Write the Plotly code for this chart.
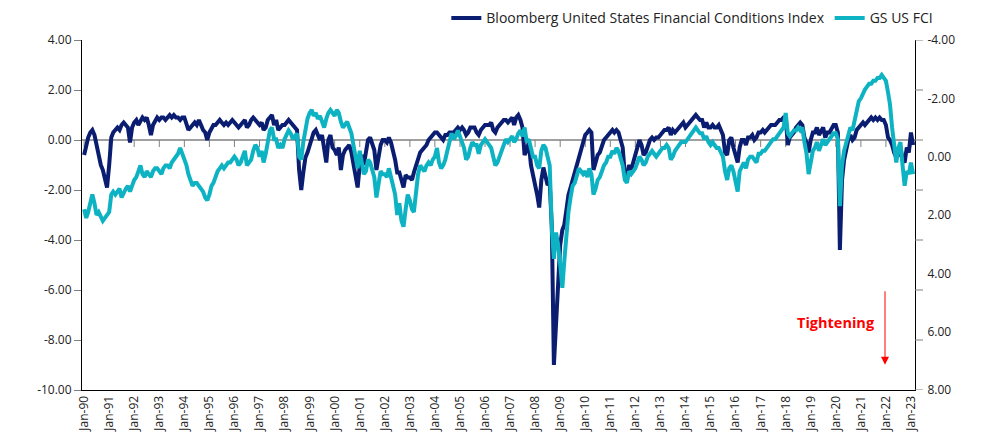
import pandas as pd
import plotly.graph_objects as go

# Monthly readings (first of month), Jan-1990 .. Feb-2023
bbg_fci = [
    # 1990
    -0.6, -0.2, 0.1, 0.3, 0.4, 0.2, -0.2, -0.7, -1.0, -1.2, -1.6, -1.9,
    # 1991
    -1.0, 0.1, 0.3, 0.4, 0.5, 0.4, 0.6, 0.7, 0.6, 0.5, -0.1, 0.5,
    # 1992
    0.7, 0.8, 0.6, 0.8, 0.9, 0.8, 0.9, 0.6, 0.2, 0.6, 0.8, 0.9,
    # 1993
    0.8, 0.9, 0.9, 0.8, 0.9, 1.0, 0.9, 1.0, 0.9, 0.9, 0.8, 0.9,
    # 1994
    0.9, 0.6, 0.4, 0.5, 0.6, 0.7, 0.6, 0.8, 0.6, 0.4, 0.3, 0.0,
    # 1995
    0.3, 0.5, 0.6, 0.6, 0.7, 0.8, 0.7, 0.6, 0.7, 0.6, 0.7, 0.8,
    # 1996
    0.7, 0.6, 0.5, 0.6, 0.7, 0.8, 0.5, 0.6, 0.8, 0.9, 0.8, 0.7,
    # 1997
    0.6, 0.7, 0.4, 0.5, 0.8, 0.9, 1.0, 0.6, 0.8, 0.4, 0.5, 0.6,
    # 1998
    0.6, 0.7, 0.8, 0.7, 0.6, 0.5, 0.4, -1.2, -2.0, -1.3, -0.7, -0.5,
    # 1999
    -0.2, 0.0, 0.3, 0.4, 0.2, 0.0, 0.2, -0.3, -0.9, 0.0, 0.2, -0.3,
    # 2000
    -0.4, -0.6, -0.3, -1.2, -0.6, -0.4, -0.3, -0.2, -0.5, -1.0, -1.5, -1.9,
    # 2001
    -1.0, -0.6, -1.0, -0.5, 0.0, 0.1, -0.2, -0.4, -1.2, -0.6, -0.2, 0.0,
    # 2002
    0.0, -0.1, 0.1, -0.1, -0.4, -0.8, -1.3, -1.3, -1.6, -1.9, -1.4, -1.5,
    # 2003
    -1.5, -1.6, -1.3, -1.0, -0.7, -0.5, -0.4, -0.3, -0.2, 0.0, 0.1, 0.2,
    # 2004
    0.3, 0.3, 0.2, 0.1, 0.0, 0.2, 0.2, 0.3, 0.3, 0.3, 0.4, 0.5,
    # 2005
    0.4, 0.5, 0.4, 0.2, 0.3, 0.5, 0.5, 0.5, 0.3, 0.2, 0.4, 0.5,
    # 2006
    0.6, 0.6, 0.6, 0.7, 0.4, 0.3, 0.5, 0.6, 0.7, 0.8, 0.8, 0.7,
    # 2007
    0.8, 0.9, 0.6, 0.9, 1.0, 0.8, 0.5, -0.6, -0.4, -0.1, -1.0, -1.4,
    # 2008
    -1.7, -2.2, -2.7, -1.6, -1.1, -1.4, -1.8, -1.7, -3.5, -9.0, -7.5, -5.5,
    # 2009
    -4.2, -3.6, -3.4, -2.8, -2.2, -1.9, -1.6, -1.2, -0.9, -0.6, -0.3, 0.0,
    # 2010
    0.2, 0.3, 0.4, 0.3, -1.2, -0.9, -0.6, -0.5, -0.2, 0.0, 0.1, 0.2,
    # 2011
    0.3, 0.4, 0.3, 0.4, 0.3, 0.0, -0.3, -1.4, -1.6, -1.0, -1.2, -0.9,
    # 2012
    -0.6, -0.3, 0.0, -0.2, -0.6, -0.5, -0.3, 0.0, 0.1, 0.0, 0.1, 0.1,
    # 2013
    0.2, 0.3, 0.4, 0.4, 0.5, 0.2, 0.4, 0.3, 0.4, 0.5, 0.6, 0.7,
    # 2014
    0.5, 0.6, 0.7, 0.8, 0.9, 1.0, 0.9, 0.8, 0.8, 0.5, 0.7, 0.5,
    # 2015
    0.5, 0.6, 0.5, 0.5, 0.6, 0.4, 0.2, -0.5, -0.6, 0.0, 0.1, -0.3,
    # 2016
    -0.6, -0.9, -0.3, 0.0, 0.0, -0.2, 0.1, 0.1, 0.2, 0.0, 0.1, 0.3,
    # 2017
    0.3, 0.4, 0.3, 0.4, 0.5, 0.6, 0.6, 0.6, 0.7, 0.8, 0.8, 0.9,
    # 2018
    0.9, -0.2, 0.1, 0.2, 0.3, 0.5, 0.6, 0.7, 0.6, 0.1, -0.1, -0.5,
    # 2019
    0.0, 0.3, 0.3, 0.5, 0.2, 0.4, 0.5, 0.1, 0.3, 0.3, 0.5, 0.6,
    # 2020
    0.6, 0.3, -4.4, -1.6, -0.8, -0.3, 0.0, 0.2, 0.0, 0.1, 0.4, 0.5,
    # 2021
    0.6, 0.7, 0.6, 0.7, 0.8, 0.9, 0.8, 0.9, 0.8, 0.9, 0.8, 0.8,
    # 2022
    0.6, 0.1, 0.0, -0.2, -0.5, -0.7, -0.6, -0.3, -0.8, -0.9, -0.3, -0.5,
    # 2023
    0.3, -0.2,
]

gs_fci = [
    # 1990
    1.8, 2.1, 1.9, 1.6, 1.3, 1.6, 2.0, 1.9, 2.1, 2.2, 2.1, 2.0,
    # 1991
    1.9, 1.3, 1.2, 1.3, 1.2, 1.1, 1.4, 1.2, 1.1, 1.0, 1.2, 1.0,
    # 1992
    0.8, 0.7, 0.5, 0.3, 0.6, 0.7, 0.5, 0.6, 0.7, 0.5, 0.4, 0.4,
    # 1993
    0.5, 0.6, 0.4, 0.3, 0.3, 0.4, 0.2, 0.1, 0.0, -0.1, -0.3, -0.1,
    # 1994
    0.1, 0.3, 0.6, 0.8, 1.0, 0.9, 0.9, 1.0, 1.1, 1.2, 1.4, 1.5,
    # 1995
    1.3, 1.0, 0.9, 0.7, 0.5, 0.4, 0.3, 0.4, 0.3, 0.2, 0.2, 0.1,
    # 1996
    0.0, 0.1, 0.3, 0.2, 0.0, -0.2, 0.3, 0.2, 0.1, -0.2, -0.4, -0.3,
    # 1997
    0.0, -0.2, 0.2, -0.1, -0.6, -0.9, -1.0, -0.6, -0.6, -0.3, -0.4, -0.3,
    # 1998
    -0.6, -0.8, -0.9, -0.8, -0.6, -0.7, -0.8, 0.0, 0.1, -0.5, -1.0, -1.3,
    # 1999
    -1.5, -1.6, -1.4, -1.5, -1.3, -1.4, -1.2, -1.0, -1.3, -1.5, -1.6, -1.5,
    # 2000
    -1.4, -1.6, -1.5, -1.2, -1.0, -1.1, -1.2, -1.0, -0.8, -0.4, 0.0, 0.4,
    # 2001
    -0.2, 0.3, 0.6, 0.5, 0.1, 0.2, 0.4, 0.7, 1.4, 0.9, 0.5, 0.6,
    # 2002
    0.6, 0.7, 0.4, 0.7, 1.0, 1.3, 2.0, 1.6, 2.2, 2.4, 1.8, 1.3,
    # 2003
    1.5, 1.8, 1.9, 1.2, 0.6, 0.3, 0.4, 0.5, 0.3, 0.2, 0.3, 0.1,
    # 2004
    0.0, -0.3, 0.2, 0.4, 0.3, 0.1, -0.2, -0.5, -0.8, -0.6, -0.7, -0.9,
    # 2005
    -0.7, -0.5, -0.3, 0.1, 0.0, -0.3, -0.5, -0.4, -0.4, -0.1, -0.4, -0.5,
    # 2006
    -0.6, -0.5, -0.4, -0.3, 0.0, 0.3, 0.2, 0.0, -0.2, -0.4, -0.6, -0.5,
    # 2007
    -0.6, -0.7, -0.5, -0.6, -0.8, -0.9, -0.7, -1.0, -0.5, -0.6, -0.3, 0.0,
    # 2008
    0.0, 0.3, 0.4, -0.2, -0.4, -0.3, 0.0, 0.3, 2.5, 3.5, 2.6, 3.0,
    # 2009
    3.7, 4.5, 3.6, 2.5, 1.9, 1.4, 1.0, 0.9, 0.6, 0.4, 0.5, 0.6,
    # 2010
    0.5, 0.7, 0.4, 0.6, 1.3, 1.1, 0.8, 0.7, 0.5, 0.3, 0.2, 0.0,
    # 2011
    0.0, -0.2, -0.1, -0.3, -0.2, 0.1, 0.3, 0.8, 0.9, 0.5, 0.6, 0.5,
    # 2012
    0.4, 0.2, 0.0, 0.1, 0.3, 0.2, 0.0, -0.1, -0.2, -0.1, 0.0, -0.1,
    # 2013
    -0.2, -0.3, -0.3, -0.4, -0.3, 0.1, 0.0, -0.2, -0.3, -0.4, -0.5, -0.5,
    # 2014
    -0.5, -0.6, -0.7, -0.8, -0.9, -1.0, -0.9, -0.8, -0.8, -0.6, -0.7, -0.5,
    # 2015
    -0.4, -0.5, -0.4, -0.3, -0.3, -0.1, 0.0, 0.5, 0.8, 0.4, 0.3, 0.5,
    # 2016
    0.8, 1.2, 0.5, 0.3, 0.2, 0.4, 0.1, 0.0, 0.0, 0.1, 0.2, -0.1,
    # 2017
    -0.1, -0.2, -0.2, -0.3, -0.4, -0.5, -0.6, -0.6, -0.7, -0.8, -0.9, -1.0,
    # 2018
    -1.5, -0.8, -0.7, -0.8, -0.9, -0.9, -1.0, -0.9, -1.0, -0.5, -0.1, 0.6,
    # 2019
    0.2, -0.2, -0.3, -0.5, -0.2, -0.4, -0.6, -0.4, -0.5, -0.6, -0.7, -0.8,
    # 2020
    -0.8, -0.6, 1.7, 0.3, -0.2, -0.5, -0.8, -1.0, -0.9, -1.2, -1.6, -1.9,
    # 2021
    -2.0, -2.2, -2.3, -2.4, -2.5, -2.5, -2.6, -2.6, -2.7, -2.7, -2.8, -2.7,
    # 2022
    -2.6, -2.2, -1.8, -1.0, -0.4, 0.2, -0.3, -0.5, 0.3, 1.0, 0.5, 0.6,
    # 2023
    0.2, 0.6,
]

dates = pd.date_range("1990-01-01", periods=len(bbg_fci), freq="MS")

tick_years = list(range(1990, 2024))
tick_dates = [f"{y}-01-01" for y in tick_years]
tick_text = [f"Jan-{y % 100:02d}" for y in tick_years]

left_ticks = [4, 2, 0, -2, -4, -6, -8, -10]
left_text = [f"{v:.2f}" for v in left_ticks]
right_ticks = [-4, -2, 0, 2, 4, 6, 8]
right_text = [f"{v:.2f}" for v in right_ticks]

NAVY = "#0a1d70"
CYAN = "#0db3c2"
FONT = "Open Sans"

fig = go.Figure()
fig.add_trace(go.Scatter(x=dates, y=bbg_fci, mode="lines",
                         name="Bloomberg United States Financial Conditions Index",
                         line=dict(color=NAVY, width=4)))
fig.add_trace(go.Scatter(x=dates, y=gs_fci, mode="lines", name="GS US FCI",
                         yaxis="y2", line=dict(color=CYAN, width=4)))

shapes = []
# zero line acting as category axis
shapes.append(dict(type="line", xref="paper", x0=0, x1=1, yref="y", y0=0, y1=0,
                   line=dict(color="#808080", width=1.5), layer="below"))
for d in tick_dates:
    shapes.append(dict(type="line", xref="x", x0=d, x1=d, yref="y",
                       ysizemode="pixel", yanchor=0, y0=0, y1=-7,
                       line=dict(color="#808080", width=1), layer="below"))
# right-side tick marks (aligned with left-axis tick positions)
for v in left_ticks:
    shapes.append(dict(type="line", xref="paper", xsizemode="pixel", xanchor=1,
                       x0=0, x1=8, yref="y", y0=v, y1=v,
                       line=dict(color="#808080", width=1)))

fig.update_layout(
    width=976, height=437,
    margin=dict(l=74, r=69, t=32, b=55, autoexpand=False),
    paper_bgcolor="white", plot_bgcolor="white",
    font=dict(family=FONT, size=12, color="#222"),
    showlegend=True,
    legend=dict(orientation="h", xanchor="right", x=1.028, yanchor="middle", y=1.062,
                font=dict(size=14, color="#222"), bgcolor="rgba(0,0,0,0)",
                itemwidth=30, tracegroupgap=0),
    xaxis=dict(type="date", range=["1989-12-01", "2023-03-01"],
               tickmode="array", tickvals=tick_dates, ticktext=tick_text,
               tickangle=-90, ticks="", showgrid=False, zeroline=False,
               showline=True, linecolor="#000", linewidth=1,
               automargin=False, tickfont=dict(size=12)),
    yaxis=dict(range=[-10, 4], tickmode="array", tickvals=left_ticks,
               ticktext=left_text, ticks="outside", ticklen=7, tickcolor="#808080",
               showgrid=False, zeroline=False, showline=True,
               linecolor="#000", linewidth=1, automargin=False,
               tickfont=dict(size=12)),
    yaxis2=dict(range=[8, -4], overlaying="y", side="right", anchor="x",
                tickmode="array", tickvals=right_ticks, ticktext=right_text,
                ticks="outside", ticklen=9, tickcolor="rgba(0,0,0,0)",
                showgrid=False, zeroline=False, showline=True,
                linecolor="#000", linewidth=1, automargin=False,
                tickfont=dict(size=12)),
    shapes=shapes,
    annotations=[
        dict(text="<b>Tightening</b>", xref="paper", yref="paper",
             x=0.905, y=0.194, xanchor="center", yanchor="middle", showarrow=False,
             font=dict(color="#ff0000", size=14.5, family=FONT)),
        dict(text="", xref="paper", yref="paper", x=0.964, y=0.072,
             ax=0, ay=-75, showarrow=True, arrowcolor="#ff0000",
             arrowwidth=1, arrowhead=2, arrowsize=1.6),
    ],
)

fig.write_html("out.html")
